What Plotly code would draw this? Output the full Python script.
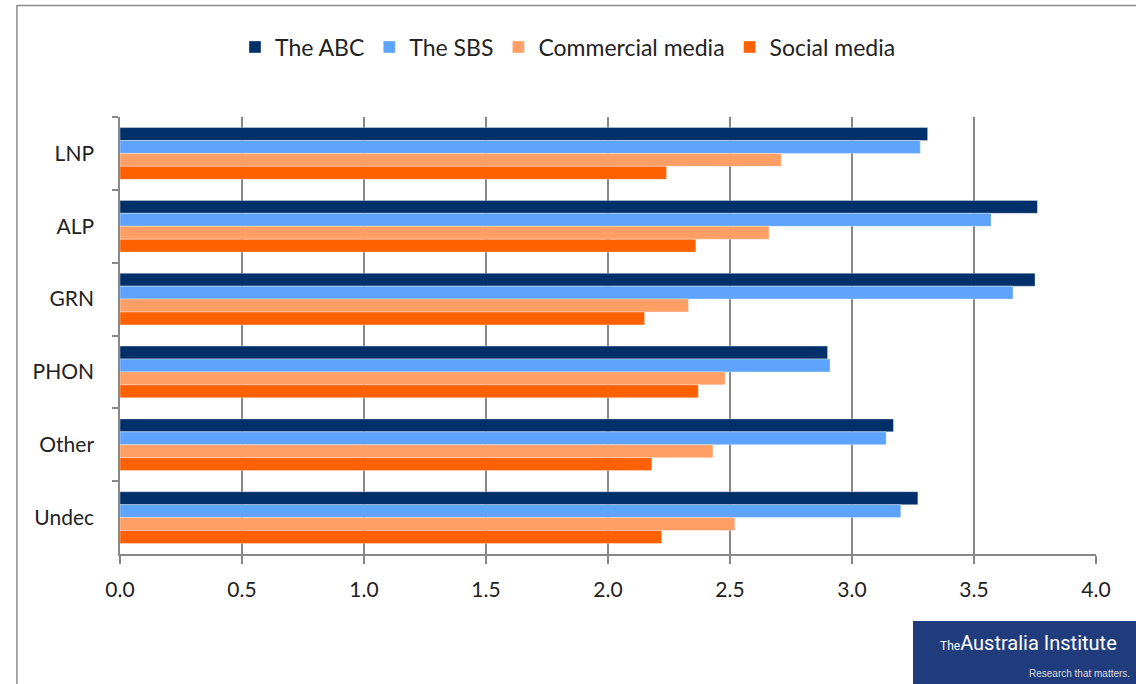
import plotly.graph_objects as go

categories = ["LNP", "ALP", "GRN", "PHON", "Other", "Undec"]
abc = [3.31, 3.76, 3.75, 2.90, 3.17, 3.27]
sbs = [3.28, 3.57, 3.66, 2.91, 3.14, 3.20]
commercial = [2.71, 2.66, 2.33, 2.48, 2.43, 2.52]
social = [2.24, 2.36, 2.15, 2.37, 2.18, 2.22]
series_names = ["The ABC", "The SBS", "Commercial media", "Social media"]
colors = ["#003069", "#5EA3FD", "#FF9F66", "#FF6000"]
x_ticks = [0.0, 0.5, 1.0, 1.5, 2.0, 2.5, 3.0, 3.5, 4.0]

fig = go.Figure()
for name, vals, col in zip(series_names, [abc, sbs, commercial, social], colors):
    fig.add_trace(go.Bar(
        y=categories, x=vals, name=name, orientation="h",
        marker=dict(color=col, line=dict(color="rgba(255,255,255,0.35)", width=1)),
    ))

font_family = "Lato, 'Open Sans', sans-serif"
fig.update_layout(
    width=1136, height=684,
    margin=dict(l=120, r=40, t=117, b=130),
    paper_bgcolor="white", plot_bgcolor="white",
    barmode="group", bargap=0.29, bargroupgap=0,
    font=dict(family=font_family, size=21, color="#222222"),
    showlegend=True,
    legend=dict(orientation="h", x=0.5, xanchor="center", xref="container",
                y=1 - 47/684, yref="container", yanchor="middle",
                font=dict(size=23, color="#222222"),
                itemwidth=30, traceorder="normal"),
    xaxis=dict(range=[0, 4.0], tickvals=x_ticks, ticktext=[f"{v:.1f}" for v in x_ticks],
               showgrid=True, gridcolor="#888888", gridwidth=1.5,
               showline=True, linecolor="#888888", linewidth=1.5,
               ticks="outside", ticklen=8, tickcolor="#888888", tickwidth=1.5,
               zeroline=False, ticklabelstandoff=8),
    yaxis=dict(autorange="reversed", showline=True, linecolor="#888888", linewidth=1.5,
               ticks="outside", ticklen=6, tickcolor="#888888", tickwidth=1.5,
               tickson="boundaries", ticklabelstandoff=20, showgrid=False),
)

# outer frame
fig.add_shape(type="rect", xref="paper", yref="paper", x0=-0.1056, x1=1.06, y0=-0.5, y1=1.255,
              line=dict(color="#8C8C8C", width=1.5), fillcolor="rgba(0,0,0,0)", layer="below")
# logo box
fig.add_shape(type="rect", xref="paper", yref="paper",
              x0=(913-120)/976, x1=(1136-120)/976, y0=-(684-554)/437, y1=-(621-554)/437,
              line=dict(width=0), fillcolor="#203C7C")
fig.add_annotation(xref="paper", yref="paper", x=(1028-120)/976, y=-(643-554)/437,
                   text="<span style='font-size:12px'>The</span>Australia Institute", showarrow=False,
                   font=dict(family="'Liberation Sans Narrow', 'Roboto', sans-serif", size=20, color="white"),
                   xanchor="center", yanchor="middle")
fig.add_annotation(xref="paper", yref="paper", x=(1132-120)/976, y=-(673-554)/437,
                   text="Research that matters.", showarrow=False,
                   font=dict(family="'Liberation Sans Narrow', sans-serif", size=10, color="#dddddd"),
                   xanchor="right", yanchor="middle")

fig.write_html("out.html")
